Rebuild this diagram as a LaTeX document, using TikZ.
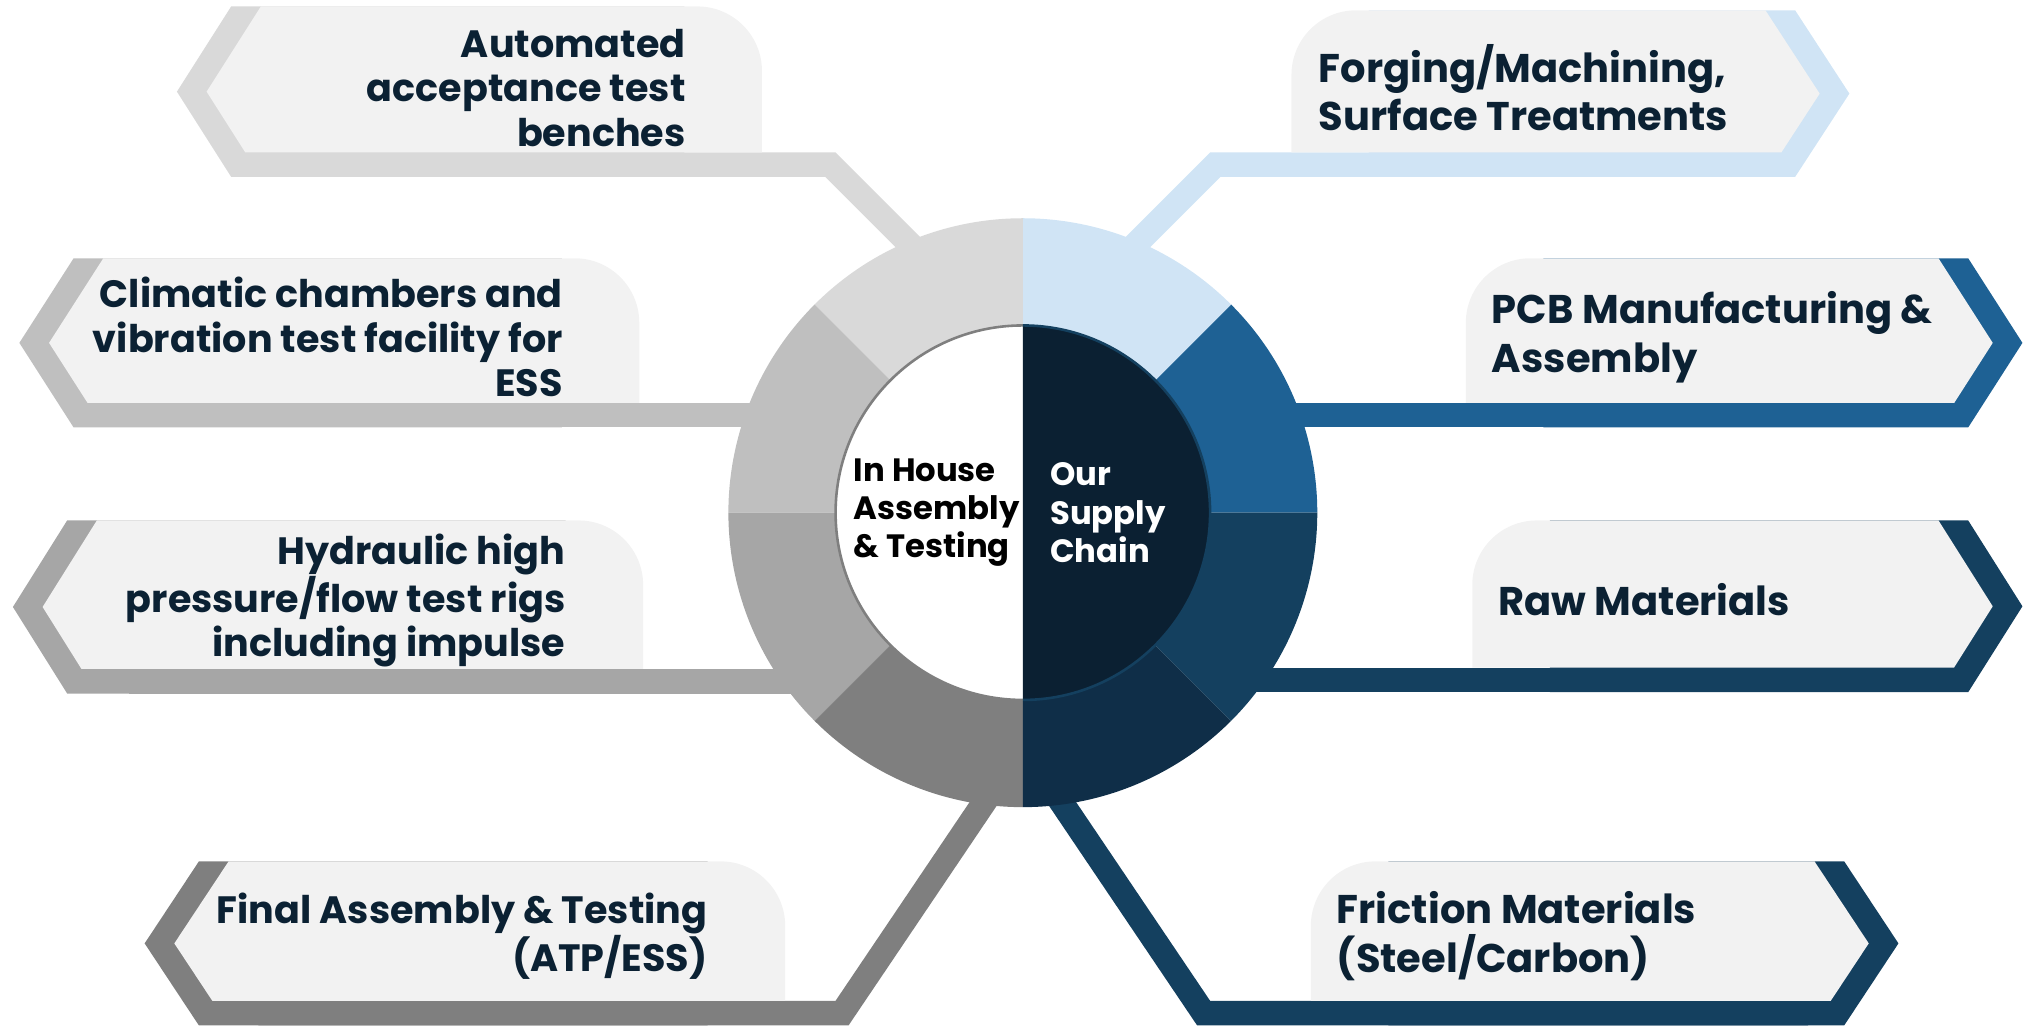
\documentclass[tikz,border=0pt]{standalone}
\usepackage{fontspec}
\setmainfont{Poppins}
\usepackage{tikz}
\usetikzlibrary{positioning,calc}
\definecolor{boxfill}{HTML}{F2F2F2}
\definecolor{ringA}{HTML}{D9D9D9}
\definecolor{ringB}{HTML}{BFBFBF}
\definecolor{ringC}{HTML}{A6A6A6}
\definecolor{ringD}{HTML}{7F7F7F}
\definecolor{ringE}{HTML}{D0E4F5}
\definecolor{ringF}{HTML}{1E6194}
\definecolor{ringG}{HTML}{14405F}
\definecolor{ringH}{HTML}{0F2E48}
\definecolor{hubdark}{HTML}{0B2032}
\definecolor{textnavy}{HTML}{0B2133}
\newcommand{\chevx}{42}
\newcommand{\bandd}{23}
\newcommand{\bandw}{19}
% chevron pointing left, box rounded top right
\newcommand{\leftcallout}[5]{%
  \pgfmathsetmacro{\cTipY}{(#3+#4-\bandw)/2}%
  \pgfmathsetmacro{\cLowX}{#2+\bandd+\chevx*(\cTipY-#4)/(\cTipY-#4+\bandw)}%
  \fill[#1] (#2+\chevx,#3) -- (#2,\cTipY) -- (#2+\chevx,#4-\bandw) -- (#5-60,#4-\bandw) -- (#5-60,#3) -- cycle;
  \fill[boxfill] (#2+\bandd+\chevx,#3) -- (#2+\bandd,\cTipY) -- (\cLowX,#4) -- (#5,#4) -- (#5,#3-50) arc[start angle=0,end angle=90,radius=50] -- cycle;
}
% chevron pointing right, box rounded top left
\newcommand{\rightcallout}[5]{%
  \pgfmathsetmacro{\cTipY}{(#3+#4-\bandw)/2}%
  \pgfmathsetmacro{\cLowX}{#2-\bandd-\chevx*(\cTipY-#4)/(\cTipY-#4+\bandw)}%
  \fill[#1] (#2-\chevx,#3) -- (#2,\cTipY) -- (#2-\chevx,#4-\bandw) -- (#5+60,#4-\bandw) -- (#5+60,#3) -- cycle;
  \fill[boxfill] (#2-\bandd-\chevx,#3) -- (#2-\bandd,\cTipY) -- (\cLowX,#4) -- (#5,#4) -- (#5,#3-50) arc[start angle=180,end angle=90,radius=50] -- cycle;
}
\tikzset{
  link/.style={line width=19pt, line join=miter},
  ltxt/.style={font=\bfseries\fontsize{29.5}{34.5}\selectfont, text=textnavy, inner sep=0pt, anchor=east, align=right},
  rtxt/.style={font=\bfseries\fontsize{31}{37.5}\selectfont, text=textnavy, inner sep=0pt, anchor=west, align=left},
  hubtxt/.style={font=\bfseries\fontsize{25}{29.5}\selectfont, inner sep=0pt, anchor=west, align=left}
}
\begin{document}
\begin{tikzpicture}[x=1pt,y=1pt]
    \useasboundingbox (0,0) rectangle (1568,794);
    \coordinate (hub) at (792,397);
    % links into the ring
    \draw[link, ringA] (200,666.5) -- (643,666.5) -- ++(-45:110);
    \draw[link, ringE] (1360,666.5) -- (941,666.5) -- ++(225:110);
    \draw[link, ringB] (100,472.5) -- (640,472.5);
    \draw[link, ringF] (1500,472.5) -- (940,472.5);
    \draw[link, ringC] (100,266.5) -- (640,266.5);
    \draw[link, ringG] (1500,267.5) -- (940,267.5);
    \draw[link, ringD] (200,9.5) -- (652,9.5) -- ++(56:215);
    \draw[link, ringG] (1400,9.5) -- (932,9.5) -- ++(124:215);
    % callout boxes
    \leftcallout{ringA}{137}{789}{676}{590}
    \leftcallout{ringB}{15}{594}{482}{495}
    \leftcallout{ringC}{10}{391}{276}{498}
    \leftcallout{ringD}{112}{127}{19}{608}
    \rightcallout{ringE}{1432}{786}{676}{1000}
    \rightcallout{ringF}{1566}{594}{482}{1135}
    \rightcallout{ringG}{1566}{391}{277}{1140}
    \rightcallout{ringG}{1470}{127}{19}{1015}
    % ring
    \foreach \a/\c in {0/ringF,45/ringE,90/ringA,135/ringB,180/ringC,225/ringD,270/ringH,315/ringG}
      \fill[\c] (hub) -- ++(\a:228) arc[start angle=\a, delta angle=45, radius=228] -- cycle;
    \fill[white] ($(hub)+(0,145)$) arc[start angle=90, end angle=270, radius=145] -- cycle;
    \fill[hubdark] ($(hub)+(0,145)$) arc[start angle=90, end angle=-90, radius=145] -- cycle;
    \draw[ringD, line width=2pt] ($(hub)+(0,145)$) arc[start angle=90, end angle=270, radius=145];
    \draw[ringG, line width=2pt] ($(hub)+(0,145)$) arc[start angle=90, end angle=-90, radius=145];
    \node[hubtxt, text=black] (inhouse) at (661,397) {In House\\Assembly\\\& Testing};
    \node[hubtxt, text=white] (supply) at (813,397) {Our\\Supply\\Chain};
    % labels
    \node[ltxt] (bench) at (531,726) {Automated\\acceptance test\\benches};
    \node[ltxt] (climate) at (436,533) {Climatic chambers and\\vibration test facility for\\ESS};
    \node[ltxt] (hydro) at (438,329) {Hydraulic high\\pressure/flow test rigs\\including impulse};
    \node[ltxt] (final) at (548,69) {Final Assembly \& Testing\\(ATP/ESS)};
    \node[rtxt] (forge) at (1021,726) {Forging/Machining,\\Surface Treatments};
    \node[rtxt] (pcb) at (1155,533) {PCB Manufacturing \&\\Assembly};
    \node[rtxt] (raw) at (1160,330) {Raw Materials};
    \node[rtxt] (friction) at (1035,69) {Friction Materials\\(Steel/Carbon)};
\end{tikzpicture}
\end{document}
